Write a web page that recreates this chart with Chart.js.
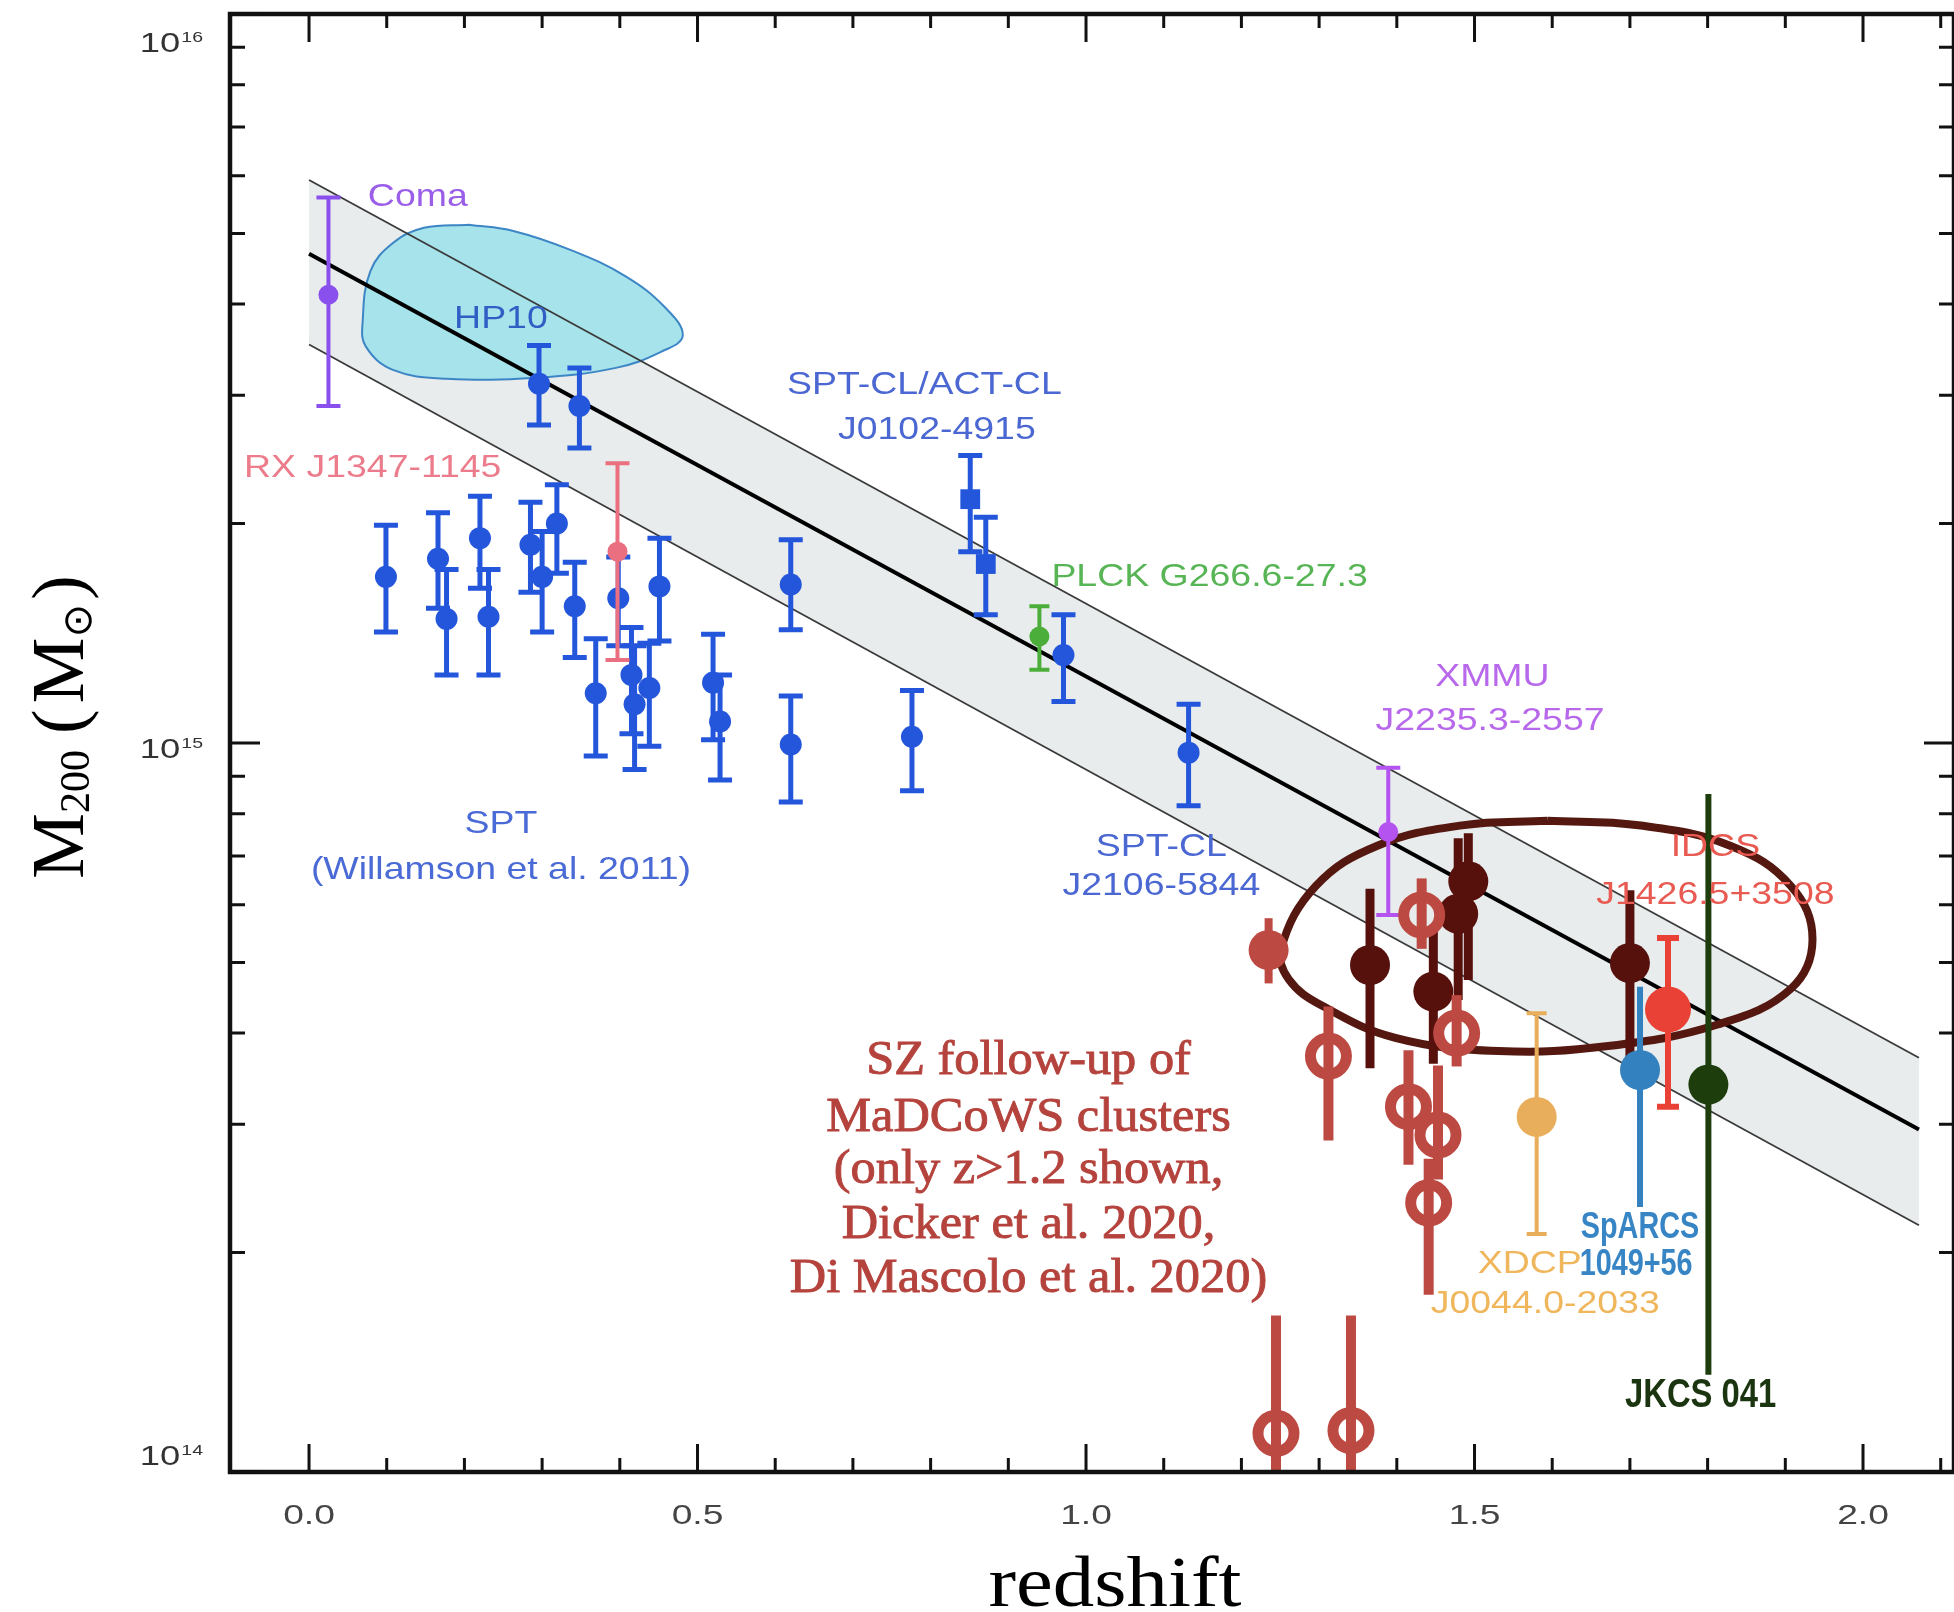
<!DOCTYPE html>
<html>
<head>
<meta charset="utf-8">
<script src="https://cdn.jsdelivr.net/npm/chart.js@4.4.0/dist/chart.umd.min.js"></script>
<style>
  html, body { margin: 0; padding: 0; background: #fff; }
</style>
</head>
<body>
<canvas id="chart" width="1954" height="1612"></canvas>
<script>
// scaling relation band (redshift vs M200)
const bandZ = [0.0, 2.072];
const bandMid = [4.69e15, 2.95e14];
const bandHi = [5.92e15, 3.70e14];
const bandLo = [3.52e15, 2.18e14];

// SPT clusters (Williamson et al. 2011)
const sptZ  = [0.099, 0.166, 0.177, 0.220, 0.231, 0.285, 0.300, 0.319, 0.342, 0.398, 0.369, 0.415, 0.419, 0.438, 0.451, 0.520, 0.529, 0.620, 0.620, 0.776];
const sptM  = [1.69e15, 1.79e15, 1.48e15, 1.91e15, 1.49e15, 1.87e15, 1.69e15, 2.00e15, 1.54e15, 1.58e15, 1.17e15, 1.24e15, 1.13e15, 1.19e15, 1.64e15, 1.21e15, 1.07e15, 1.65e15, 9.95e14, 1.02e15];
const sptHi = [1.99e15, 2.07e15, 1.73e15, 2.18e15, 1.73e15, 2.14e15, 1.95e15, 2.26e15, 1.77e15, 1.80e15, 1.39e15, 1.44e15, 1.36e15, 1.37e15, 1.91e15, 1.41e15, 1.24e15, 1.90e15, 1.16e15, 1.18e15];
const sptLo = [1.42e15, 1.53e15, 1.24e15, 1.63e15, 1.24e15, 1.61e15, 1.42e15, 1.71e15, 1.31e15, 1.36e15, 9.6e14, 1.03e15, 9.2e14, 9.9e14, 1.38e15, 1.01e15, 8.9e14, 1.43e15, 8.3e14, 8.6e14];

// other blue clusters (HP10, SPT-CL J2106 ...)
const blueZ  = [0.296, 0.348, 0.971, 1.132];
const blueM  = [3.11e15, 2.90e15, 1.32e15, 9.7e14];
const blueHi = [3.51e15, 3.27e15, 1.50e15, 1.13e15];
const blueLo = [2.73e15, 2.54e15, 1.14e15, 8.2e14];

// SPT-CL/ACT-CL J0102-4915 (squares)
const j0102Z  = [0.851, 0.871];
const j0102M  = [2.16e15, 1.76e15];
const j0102Hi = [2.48e15, 2.04e15];
const j0102Lo = [1.83e15, 1.50e15];

const comaZ = [0.025], comaM = [4.12e15], comaHi = [5.60e15], comaLo = [2.90e15];
const rxjZ = [0.397], rxjM = [1.83e15], rxjHi = [2.42e15], rxjLo = [1.30e15];
const plckZ = [0.940], plckM = [1.40e15], plckHi = [1.54e15], plckLo = [1.26e15];
const xmmuZ = [1.389], xmmuM = [7.55e14], xmmuHi = [9.25e14], xmmuLo = [5.81e14];
const idcsZ = [1.749], idcsM = [4.31e14], idcsHi = [5.40e14], idcsLo = [3.17e14];
const sparcsZ = [1.713], sparcsM = [3.56e14], sparcsHi = [4.63e14], sparcsLo = [2.31e14];
const xdcpZ = [1.580], xdcpM = [3.07e14], xdcpHi = [4.26e14], xdcpLo = [2.12e14];
const jkcsZ = [1.801], jkcsM = [3.40e14], jkcsHi = [8.51e14], jkcsLo = [1.36e14];

// SZ follow-up of MaDCoWS clusters
const madFilledZ = [1.235], madFilledM = [5.20e14], madFilledHi = [5.75e14], madFilledLo = [4.68e14];
const madOpenZ  = [1.432, 1.312, 1.415, 1.453, 1.477, 1.441, 1.2445, 1.341];
const madOpenM  = [5.81e14, 3.72e14, 3.17e14, 2.90e14, 4.00e14, 2.34e14, 1.13e14, 1.14e14];
const madOpenHi = [6.52e14, 4.35e14, 3.79e14, 3.61e14, 4.51e14, 2.69e14, 1.64e14, 1.64e14];
const madOpenLo = [5.22e14, 2.85e14, 2.64e14, 2.52e14, 3.60e14, 1.75e14, 9.0e13, 9.0e13];
const darkZ  = [1.3655, 1.492, 1.479, 1.447, 1.700];
const darkM  = [4.96e14, 6.46e14, 5.83e14, 4.56e14, 4.99e14];
const darkHi = [6.31e14, 7.52e14, 7.40e14, 5.53e14, 6.28e14];
const darkLo = [3.58e14, 4.73e14, 4.44e14, 3.63e14, 3.60e14];

// Coma contour (HP10) and hand-drawn ellipse outlines
const comaBlobZ = [0.206, 0.263, 0.338, 0.407, 0.458, 0.481, 0.453, 0.395, 0.292, 0.177, 0.108, 0.073, 0.069, 0.079, 0.108, 0.148, 0.206];
const comaBlobM = [5.14e15, 5.04e15, 4.74e15, 4.37e15, 3.96e15, 3.62e15, 3.44e15, 3.27e15, 3.17e15, 3.16e15, 3.25e15, 3.50e15, 3.78e15, 4.44e15, 4.85e15, 5.09e15, 5.14e15];
const ellipseZ = [1.594, 1.711, 1.829, 1.907, 1.935, 1.907, 1.813, 1.672, 1.531, 1.398, 1.304, 1.261, 1.251, 1.296, 1.375, 1.484, 1.594];
const ellipseM = [7.82e14, 7.71e14, 7.23e14, 6.37e14, 5.38e14, 4.60e14, 4.11e14, 3.84e14, 3.78e14, 3.94e14, 4.36e14, 4.74e14, 5.22e14, 6.37e14, 7.23e14, 7.71e14, 7.82e14];

// axes
const xMajorTicks = [0.0, 0.5, 1.0, 1.5, 2.0];
const xMinorTicks = [0.1, 0.2, 0.3, 0.4, 0.6, 0.7, 0.8, 0.9, 1.1, 1.2, 1.3, 1.4, 1.6, 1.7, 1.8, 1.9, 2.1];
const xTickLabels = ["0.0", "0.5", "1.0", "1.5", "2.0"];
const yMajorTicks = [1e14, 1e15, 1e16];
const yMinorTicks = [2e14, 3e14, 4e14, 5e14, 6e14, 7e14, 8e14, 9e14, 2e15, 3e15, 4e15, 5e15, 6e15, 7e15, 8e15, 9e15];
const yTickExponents = ["14", "15", "16"];

const szLines = ["SZ follow-up of", "MaDCoWS clusters", "(only z>1.2 shown,", "Dicker et al. 2020,", "Di Mascolo et al. 2020)"];
const szLineZ = 0.926;
const szLineM = [3.66e14, 3.06e14, 2.59e14, 2.18e14, 1.84e14];

const SANS = '"Liberation Sans", Arial, sans-serif';
const SERIF = '"Liberation Serif", "Times New Roman", serif';
const labelFont = "32px " + SANS;

const annotations = [
  { text: "Coma", z: 0.140, m: 5.61e15, color: "#9a5ee9" },
  { text: "HP10", z: 0.247, m: 3.82e15, color: "#2f5fc4" },
  { text: "RX J1347-1145", z: 0.082, m: 2.38e15, color: "#ec7c8b" },
  { text: "SPT-CL/ACT-CL", z: 0.792, m: 3.10e15, color: "#4a67d2" },
  { text: "J0102-4915", z: 0.808, m: 2.69e15, color: "#4a67d2" },
  { text: "PLCK G266.6-27.3", z: 1.159, m: 1.69e15, color: "#58b555" },
  { text: "XMMU", z: 1.523, m: 1.23e15, color: "#b868ea" },
  { text: "J2235.3-2557", z: 1.520, m: 1.07e15, color: "#b868ea" },
  { text: "SPT", z: 0.247, m: 7.74e14, color: "#4a6ad6" },
  { text: "(Willamson et al. 2011)", z: 0.247, m: 6.70e14, color: "#4a6ad6" },
  { text: "SPT-CL", z: 1.097, m: 7.19e14, color: "#4a67d2" },
  { text: "J2106-5844", z: 1.097, m: 6.37e14, color: "#4a67d2" },
  { text: "IDCS", z: 1.810, m: 7.19e14, color: "#e85a52" },
  { text: "J1426.5+3508", z: 1.810, m: 6.19e14, color: "#e85a52" },
  { text: "XDCP", z: 1.571, m: 1.93e14, color: "#f0b65c" },
  { text: "J0044.0-2033", z: 1.591, m: 1.70e14, color: "#f0b65c" },
  { text: "SpARCS", z: 1.713, m: 2.16e14, color: "#3785c5", font: "bold 36px " + SANS, sx: 0.8 },
  { text: "1049+56", z: 1.708, m: 1.92e14, color: "#3785c5", font: "bold 36px " + SANS, sx: 0.8 },
  { text: "JKCS 041", z: 1.791, m: 1.27e14, color: "#1b3510", font: "bold 40px " + SANS, sx: 0.82 },
];

const pts = (zs, ms) => zs.map((z, i) => ({ x: z, y: ms[i] }));

function lineSet(zs, ms, color, width, order, extra = {}) {
  return Object.assign({
    data: pts(zs, ms),
    showLine: true,
    borderColor: color,
    borderWidth: width,
    pointRadius: 0,
    fill: false,
    order: order,
  }, extra);
}

function pointSet(zs, ms, hi, lo, s, order) {
  return {
    data: pts(zs, ms),
    showLine: false,
    pointStyle: s.shape || "circle",
    pointRadius: s.r,
    pointBackgroundColor: s.ring ? "rgba(0,0,0,0)" : s.color,
    pointBorderColor: s.color,
    pointBorderWidth: s.ring || 0,
    errorBars: { hi: hi, lo: lo, color: s.barColor || s.color, width: s.barW, cap: s.cap || 0 },
    order: order,
  };
}

function drawText(ctx, text, x, y, font, color, sx = 1, align = "center", baseline = "middle", stroke = 0) {
  ctx.save();
  ctx.font = font;
  ctx.fillStyle = color;
  ctx.textAlign = align;
  ctx.textBaseline = baseline;
  ctx.translate(x, y);
  ctx.scale(sx, 1);
  ctx.fillText(text, 0, 0);
  if (stroke) {
    ctx.strokeStyle = color;
    ctx.lineWidth = stroke;
    ctx.strokeText(text, 0, 0);
  }
  ctx.restore();
}

const errorBarPlugin = {
  id: "errorBars",
  beforeDatasetDraw(chart, args) {
    const ds = chart.data.datasets[args.index];
    const eb = ds.errorBars;
    if (!eb) return;
    const { ctx, chartArea, scales: { x, y } } = chart;
    ctx.save();
    ctx.beginPath();
    ctx.rect(chartArea.left, chartArea.top, chartArea.right - chartArea.left, chartArea.bottom - chartArea.top);
    ctx.clip();
    ctx.strokeStyle = eb.color;
    ctx.lineWidth = eb.width;
    ds.data.forEach((p, i) => {
      const px = x.getPixelForValue(p.x);
      const top = y.getPixelForValue(eb.hi[i]);
      const bot = y.getPixelForValue(eb.lo[i]);
      ctx.beginPath();
      ctx.moveTo(px, top);
      ctx.lineTo(px, bot);
      if (eb.cap) {
        ctx.moveTo(px - eb.cap, top);
        ctx.lineTo(px + eb.cap, top);
        ctx.moveTo(px - eb.cap, bot);
        ctx.lineTo(px + eb.cap, bot);
      }
      ctx.stroke();
    });
    ctx.restore();
  },
};

const labelPlugin = {
  id: "labels",
  afterDatasetsDraw(chart) {
    const { ctx, scales: { x, y } } = chart;
    annotations.forEach((a) => {
      drawText(ctx, a.text, x.getPixelForValue(a.z), y.getPixelForValue(a.m),
        a.font || labelFont, a.color, a.sx || 1.17);
    });
    szLines.forEach((t, i) => {
      drawText(ctx, t, x.getPixelForValue(szLineZ), y.getPixelForValue(szLineM[i]),
        "48px " + SERIF, "#b5433d", 1.05, "center", "middle", 0.9);
    });
  },
};

const framePlugin = {
  id: "frame",
  afterDraw(chart) {
    const { ctx, chartArea: a, scales: { x, y } } = chart;
    ctx.save();
    ctx.strokeStyle = "#111";
    ctx.lineWidth = 4.5;
    ctx.strokeRect(a.left, a.top, a.right - a.left, a.bottom - a.top);

    ctx.lineWidth = 3;
    ctx.beginPath();
    const xTick = (v, len) => {
      const px = x.getPixelForValue(v);
      ctx.moveTo(px, a.bottom); ctx.lineTo(px, a.bottom - len);
      ctx.moveTo(px, a.top); ctx.lineTo(px, a.top + len);
    };
    const yTick = (v, len) => {
      const py = y.getPixelForValue(v);
      ctx.moveTo(a.left, py); ctx.lineTo(a.left + len, py);
      ctx.moveTo(a.right, py); ctx.lineTo(a.right - len, py);
    };
    xMajorTicks.forEach((v) => xTick(v, 28));
    xMinorTicks.forEach((v) => xTick(v, 14));
    yMajorTicks.forEach((v) => yTick(v, 30));
    yMinorTicks.forEach((v) => yTick(v, 15));
    ctx.stroke();
    ctx.restore();

    // x tick labels
    xMajorTicks.forEach((v, i) => {
      drawText(ctx, xTickLabels[i], x.getPixelForValue(v), a.bottom + 44, "28px " + SANS, "#444", 1.33);
    });

    // y tick labels 10^n
    yMajorTicks.forEach((v, i) => {
      const py = Math.min(Math.max(y.getPixelForValue(v) + 3, a.top + 26), a.bottom - 19);
      const right = 203;
      ctx.save();
      ctx.font = "15px " + SANS;
      const expW = ctx.measureText(yTickExponents[i]).width * 1.3;
      ctx.restore();
      drawText(ctx, yTickExponents[i], right, py - 10, "15px " + SANS, "#333", 1.3, "right", "top");
      drawText(ctx, "10", right - expW - 1, py - 10, "28px " + SANS, "#333", 1.3, "right", "top");
    });

    // x axis title
    drawText(ctx, "redshift", 1115, 1606, "72px " + SERIF, "#000", 1.15, "center", "alphabetic");

    // y axis title M200 (M⊙), rotated
    const main = "74px " + SERIF;
    const pieces = [
      { t: "M", font: main },
      { t: "200", font: "42px " + SERIF, dy: 6 },
      { gap: 16 },
      { t: "(", font: main },
      { gap: 6 },
      { t: "M", font: main },
      { t: "\u2299", font: "40px \"DejaVu Sans\"", dy: 8 },
      { gap: 4 },
      { t: ")", font: main },
    ];
    ctx.save();
    ctx.translate(83, 727);
    ctx.rotate(-Math.PI / 2);
    ctx.fillStyle = "#000";
    ctx.textAlign = "left";
    ctx.textBaseline = "alphabetic";
    let total = 0;
    pieces.forEach((p) => {
      if (p.gap) { total += p.gap; return; }
      ctx.font = p.font;
      p.w = ctx.measureText(p.t).width;
      total += p.w;
    });
    let cx = -total / 2;
    pieces.forEach((p) => {
      if (p.gap) { cx += p.gap; return; }
      ctx.font = p.font;
      ctx.fillText(p.t, cx, p.dy || 0);
      cx += p.w;
    });
    ctx.restore();
  },
};

const datasets = [
  // band fill
  lineSet(bandZ, bandHi, "rgba(0,0,0,0)", 0, 30, { fill: "+1", backgroundColor: "#e8ecec" }),
  lineSet(bandZ, bandLo, "rgba(0,0,0,0)", 0, 29),
  // Coma contour
  lineSet(comaBlobZ, comaBlobM, "#3d86c6", 2, 28, { fill: "shape", backgroundColor: "#a7e3ea", tension: 0.4 }),
  // band lines
  lineSet(bandZ, bandHi, "#3a3a3a", 1.8, 27),
  lineSet(bandZ, bandLo, "#3a3a3a", 1.8, 26),
  lineSet(bandZ, bandMid, "#000", 4, 25),
  // ellipse
  lineSet(ellipseZ, ellipseM, "#541810", 8, 24, { tension: 0.4 }),
  // points
  pointSet(sptZ, sptM, sptHi, sptLo, { color: "#2456dc", r: 11, barW: 5, cap: 12 }, 15),
  pointSet(blueZ, blueM, blueHi, blueLo, { color: "#2456dc", r: 11, barW: 5, cap: 12 }, 14),
  pointSet(j0102Z, j0102M, j0102Hi, j0102Lo, { color: "#2456dc", r: 14, barW: 5, cap: 12, shape: "rect" }, 14),
  pointSet(comaZ, comaM, comaHi, comaLo, { color: "#8a50ee", r: 10, barW: 4, cap: 12 }, 13),
  pointSet(rxjZ, rxjM, rxjHi, rxjLo, { color: "#ea6f80", r: 10, barW: 4, cap: 12 }, 12),
  pointSet(plckZ, plckM, plckHi, plckLo, { color: "#4cae3a", r: 10, barW: 4, cap: 10 }, 12),
  pointSet(xmmuZ, xmmuM, xmmuHi, xmmuLo, { color: "#b453f0", r: 10, barW: 4, cap: 12 }, 12),
  pointSet(madFilledZ, madFilledM, madFilledHi, madFilledLo, { color: "#bd4a42", r: 20, barW: 8 }, 9),
  pointSet(darkZ, darkM, darkHi, darkLo, { color: "#56110d", r: 20, barW: 9 }, 8),
  pointSet(madOpenZ, madOpenM, madOpenHi, madOpenLo, { color: "#bd4a42", r: 18, ring: 11, barW: 10 }, 7),
  pointSet(xdcpZ, xdcpM, xdcpHi, xdcpLo, { color: "#e9ae5b", r: 20, barW: 4, cap: 10 }, 6),
  pointSet(sparcsZ, sparcsM, sparcsHi, sparcsLo, { color: "#3381bf", r: 20, barW: 6 }, 5),
  pointSet(idcsZ, idcsM, idcsHi, idcsLo, { color: "#ea4136", r: 23, barW: 6, cap: 11 }, 4),
  pointSet(jkcsZ, jkcsM, jkcsHi, jkcsLo, { color: "#1d3d0d", r: 20, barW: 6 }, 3),
];

new Chart(document.getElementById("chart"), {
  type: "scatter",
  data: { datasets: datasets },
  options: {
    responsive: false,
    animation: false,
    events: [],
    layout: { autoPadding: false, padding: { left: 230, top: 14, right: 0, bottom: 140 } },
    scales: {
      x: { type: "linear", display: false, min: -0.1017, max: 2.1171 },
      y: { type: "logarithmic", display: false, min: 1e14, max: 1e16 },
    },
    plugins: {
      legend: { display: false },
      tooltip: { enabled: false },
    },
  },
  plugins: [errorBarPlugin, labelPlugin, framePlugin],
});
</script>
</body>
</html>
